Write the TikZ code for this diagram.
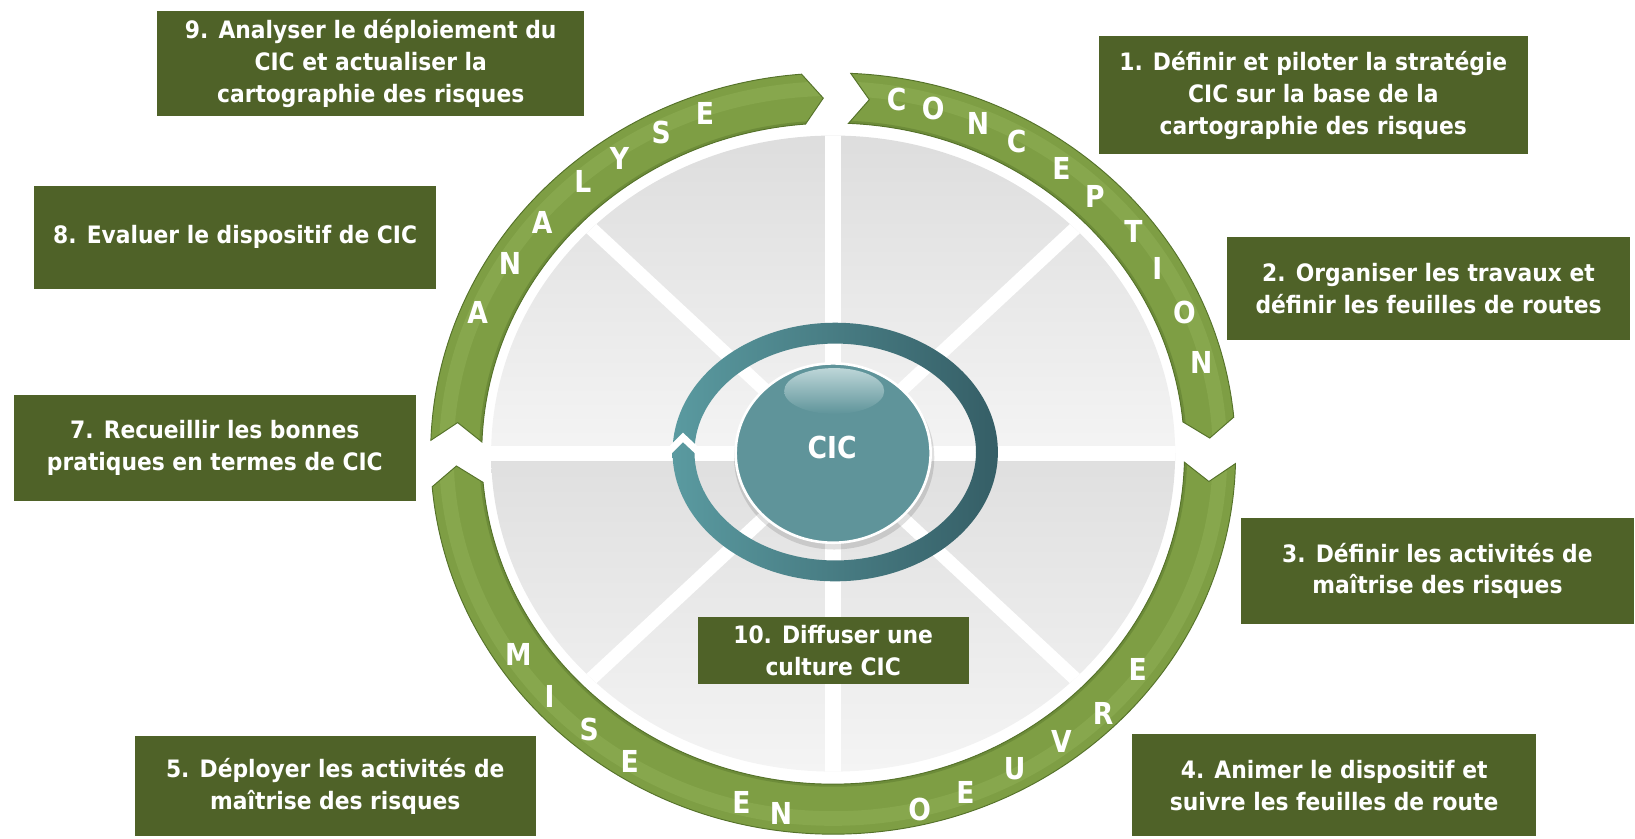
\documentclass[tikz,border=0pt]{standalone}
\usepackage{fontspec}
\setmainfont{DejaVu Sans}
\newfontfamily\boxfont[FakeStretch=0.91]{DejaVu Sans}
\newfontfamily\letfont[FakeStretch=0.88]{DejaVu Sans}
\usetikzlibrary{calc,shapes.geometric}
\definecolor{boxgreen}{HTML}{4F6228}
\definecolor{ringgreen}{HTML}{7E9E44}
\definecolor{ringlight}{HTML}{8DAD53}
\definecolor{ringedge}{HTML}{55722A}
\definecolor{tealL}{HTML}{5A9AA0}
\definecolor{tealD}{HTML}{355E66}
\definecolor{cicfill}{HTML}{5F949A}
\definecolor{cichigh}{HTML}{BDD6D8}
\definecolor{grayA}{HTML}{DCDCDC}
\definecolor{grayB}{HTML}{F4F4F4}
\definecolor{grayC}{HTML}{DFDFDF}
\definecolor{grayD}{HTML}{F5F5F5}

\newcommand\grarc[2]{%
  \pgfmathsetmacro\aA{#1-2}%
  \pgfmathsetmacro\aB{#2+5}%
  \pgfmathsetmacro\aT{#2+2}%
  \pgfmathsetmacro\aN{#1-5}%
  \def\grpath{($(C)+(\aA:386 and 365)$)
    arc[start angle=\aA, end angle=\aB, x radius=386pt, y radius=365pt]
    -- ($(C)+(\aT:361.5 and 341)$)
    -- ($(C)+(\aB:337 and 317)$)
    arc[start angle=\aB, end angle=\aA, x radius=337pt, y radius=317pt]
    -- ($(C)+(\aN:361.5 and 341)$) -- cycle}%
  \begin{scope}
    \clip \grpath;
    \fill[ringgreen] \grpath;
    \draw[ringlight, line width=14pt, opacity=0.6] (C) ellipse [x radius=371pt, y radius=350pt];
    \draw[ringedge, line width=5pt, opacity=0.4] (C) ellipse [x radius=337pt, y radius=317pt];
  \end{scope}
  \draw[ringedge, line width=0.9pt] \grpath;
}

\begin{document}
\begin{tikzpicture}[x=1pt,y=1pt,
  stepbox/.style={fill=boxgreen, text=white, align=center, inner sep=0pt,
    font=\boxfont\bfseries\fontsize{23}{30.5}\selectfont},
  ringletter/.style={text=white, inner sep=0pt,
    font=\letfont\bfseries\fontsize{29}{29}\selectfont}]
\useasboundingbox (0,0) rectangle (1568,804);
\coordinate (C) at (799,369);

% grey disk
\begin{scope}
  \clip (C) ellipse [x radius=328pt, y radius=305pt];
  \shade[top color=grayA, bottom color=grayB] (450,369) rectangle (1150,690);
  \shade[top color=grayC, bottom color=grayD] (450,50) rectangle (1150,369);
  \draw[white, line width=14pt] (440,369) -- (1160,369);
  \draw[white, line width=15pt] (799,40) -- (799,700);
  \draw[white, line width=13pt] ($(C)+(-360,-335)$) -- ($(C)+(360,335)$);
  \draw[white, line width=13pt] ($(C)+(-360,335)$) -- ($(C)+(360,-335)$);
\end{scope}

% green ring segments
\grarc{89.5}{0.5}
\grarc{360.5}{180}
\grarc{180}{89.5}

% ring letters
\node[ringletter] (a1) at (458,504) {A};
\node[ringletter] (a2) at (489,551) {N};
\node[ringletter] (a3) at (520,591) {A};
\node[ringletter] (a4) at (559,630) {L};
\node[ringletter] (a5) at (594,652) {Y};
\node[ringletter] (a6) at (634,677) {S};
\node[ringletter] (a7) at (676,695) {E};

\node[ringletter] (c1) at (860,709) {C};
\node[ringletter] (c2) at (895,700) {O};
\node[ringletter] (c3) at (938,686) {N};
\node[ringletter] (c4) at (975,668) {C};
\node[ringletter] (c5) at (1018,642) {E};
\node[ringletter] (c6) at (1050,616) {P};
\node[ringletter] (c7) at (1087,582) {T};
\node[ringletter] (c8) at (1110,547) {I};
\node[ringletter] (c9) at (1136,504) {O};
\node[ringletter] (c10) at (1152,456) {N};

\node[ringletter] (m1) at (497,176) {M};
\node[ringletter] (m2) at (527,136) {I};
\node[ringletter] (m3) at (565,104) {S};
\node[ringletter] (m4) at (604,74) {E};
\node[ringletter] (m5) at (711,34) {E};
\node[ringletter] (m6) at (749,24) {N};
\node[ringletter] (m7) at (882,28) {O};
\node[ringletter] (m8) at (926,44) {E};
\node[ringletter] (m9) at (973,67) {U};
\node[ringletter] (m10) at (1018,93) {V};
\node[ringletter] (m11) at (1058,120) {R};
\node[ringletter] (m12) at (1091,162) {E};

% teal ring
\coordinate (T) at (801,370.5);
\shade[left color=tealL, right color=tealD, even odd rule]
  (T) ellipse [x radius=156pt, y radius=124pt]
  (T) ellipse [x radius=135pt, y radius=104pt];
\fill[white] (640,374) -- (655,389) -- (671,374) -- (671,365) -- (655,380) -- (640,365) -- cycle;

% CIC ellipse
\fill[black, opacity=0.12] (800,365) ellipse [x radius=96pt, y radius=88pt];
\node[ellipse, minimum width=187pt, minimum height=172pt, inner sep=0pt,
  fill=cicfill, draw=white, line width=2.5pt] (cic) at (799,369.5) {};
\shade[top color=cichigh, bottom color=cicfill] (800,429) ellipse [x radius=48pt, y radius=22pt];
\node[text=white, font=\letfont\bfseries\fontsize{29}{29}\selectfont, inner sep=0pt] (cict) at (798,374.7) {CIC};

% step boxes
\node[stepbox, minimum width=409pt, minimum height=100pt] (b9) at (355.5,743)
  {9. Analyser le déploiement du\\CIC et actualiser la\\cartographie des risques};
\node[stepbox, minimum width=411pt, minimum height=113pt] (b1) at (1259.5,712.5)
  {1. Définir et piloter la stratégie\\CIC sur la base de la\\cartographie des risques};
\node[stepbox, minimum width=385pt, minimum height=99pt] (b8) at (225.5,576.5)
  {8. Evaluer le dispositif de CIC};
\node[stepbox, minimum width=386pt, minimum height=99pt] (b2) at (1370,527.5)
  {2. Organiser les travaux et\\définir les feuilles de routes};
\node[stepbox, minimum width=386pt, minimum height=101pt] (b7) at (206,374.5)
  {7. Recueillir les bonnes\\pratiques en termes de CIC};
\node[stepbox, minimum width=377pt, minimum height=101pt] (b3) at (1378.5,256.5)
  {3. Définir les activités de\\maîtrise des risques};
\node[stepbox, minimum width=260pt, minimum height=64pt] (b10) at (799,180)
  {10. Diffuser une\\culture CIC};
\node[stepbox, minimum width=385pt, minimum height=96pt] (b5) at (321.5,50)
  {5. Déployer les activités de\\maîtrise des risques};
\node[stepbox, minimum width=387pt, minimum height=98pt] (b4) at (1279.5,51)
  {4. Animer le dispositif et\\suivre les feuilles de route};
\end{tikzpicture}
\end{document}
